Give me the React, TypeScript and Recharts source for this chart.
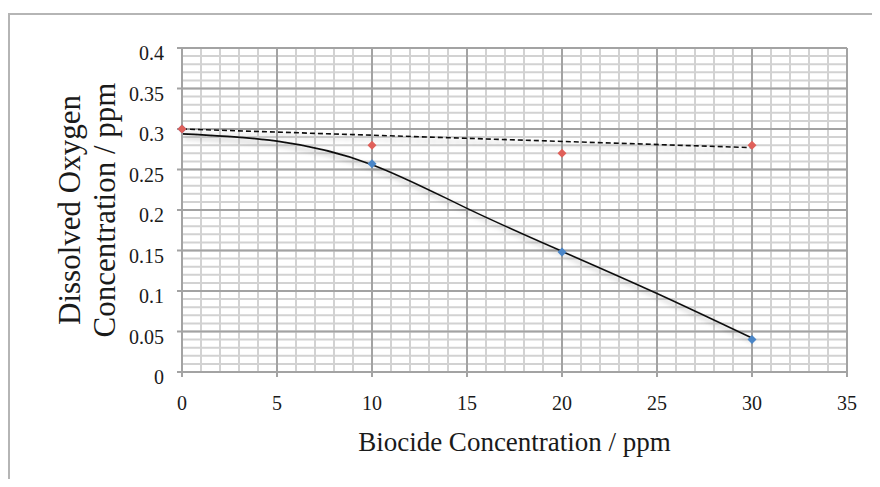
import {
  ComposedChart,
  Line,
  XAxis,
  YAxis,
  CartesianGrid,
  Label,
} from "recharts";

// measured points
const doseX = [0, 10, 20, 30];
const blueDO = [0.3, 0.257, 0.148, 0.04];
const redDO = [0.3, 0.28, 0.27, 0.28];

// trendlines
const polyX = [0, 5, 10, 15, 20, 25, 30];
const polyDO = [0.294, 0.285, 0.256, 0.202, 0.149, 0.097, 0.042];
const linX = [0, 30];
const linDO = [0.3, 0.277];

const xTicks = [0, 5, 10, 15, 20, 25, 30, 35];
const yTicks = [0, 0.05, 0.1, 0.15, 0.2, 0.25, 0.3, 0.35, 0.4];
const yTickLabels = ["0", "0.05", "0.1", "0.15", "0.2", "0.25", "0.3", "0.35", "0.4"];

const xMinor = Array.from({ length: 36 }, (_, i) => i);
const yMinor = Array.from({ length: 41 }, (_, i) => i / 100);

const blueData = doseX.map((x, i) => ({ x, y: blueDO[i] }));
const redData = doseX.map((x, i) => ({ x, y: redDO[i] }));
const polyData = polyX.map((x, i) => ({ x, y: polyDO[i] }));
const linData = linX.map((x, i) => ({ x, y: linDO[i] }));

const FONT = "'Liberation Serif', 'Times New Roman', serif";
const TEXT = "#1a1a1a";
const MAJOR = "#a3a3a3";
const MINOR = "#d2d2d2";

function Diamond(props: any) {
  const { cx, cy, color } = props;
  if (cx == null || cy == null) return null;
  const r = 4.5;
  return (
    <path
      d={`M${cx},${cy - r} L${cx + r},${cy} L${cx},${cy + r} L${cx - r},${cy} Z`}
      fill={color}
    />
  );
}

function XTick(props: any) {
  const { x, y, payload } = props;
  return (
    <text x={x} y={y + 33} textAnchor="middle" fontSize={20} fontFamily={FONT} fill={TEXT}>
      {payload.value}
    </text>
  );
}

function YTick(props: any) {
  const { x, y, payload } = props;
  const i = yTicks.indexOf(payload.value);
  return (
    <text x={x} y={y + 12} textAnchor="end" fontSize={20} fontFamily={FONT} fill={TEXT}>
      {i >= 0 ? yTickLabels[i] : payload.value}
    </text>
  );
}

function XTitle(props: any) {
  const { x, y, width } = props.viewBox;
  return (
    <text x={x + width / 2} y={y + 79} textAnchor="middle" fontSize={27} fontFamily={FONT} fill={TEXT}>
      Biocide Concentration / ppm
    </text>
  );
}

function YTitle(props: any) {
  const { y, height } = props.viewBox;
  const cy = y + height / 2;
  return (
    <g fontSize={31} fontFamily={FONT} fill={TEXT}>
      <text
        x={61}
        y={cy}
        textAnchor="middle"
        dominantBaseline="central"
        transform={`rotate(-90, 61, ${cy})`}
      >
        Dissolved Oxygen
      </text>
      <text
        x={96}
        y={cy}
        textAnchor="middle"
        dominantBaseline="central"
        transform={`rotate(-90, 96, ${cy})`}
      >
        Concentration / ppm
      </text>
    </g>
  );
}

export default function App() {
  return (
    <div style={{ position: "relative", width: 864, height: 471 }}>
      <div
        style={{
          position: "absolute",
          left: 0,
          top: 5,
          right: 0,
          bottom: 0,
          borderTop: "2px solid #b5b5b5",
          borderLeft: "2px solid #b5b5b5",
        }}
      />
      <ComposedChart
        width={864}
        height={471}
        margin={{ top: 40, right: 25, left: 0, bottom: 0 }}
        style={{ position: "absolute", left: 0, top: 0 }}
      >
        <defs>
          <filter id="soft" x="-10%" y="-30%" width="120%" height="160%">
            <feDropShadow dx="2" dy="4" stdDeviation="2.5" floodColor="#000" floodOpacity="0.3" />
          </filter>
        </defs>
        <CartesianGrid
          stroke={MINOR}
          strokeWidth={2}
          verticalValues={xMinor}
          horizontalValues={yMinor}
          syncWithTicks={false}
        />
        <CartesianGrid
          stroke={MAJOR}
          strokeWidth={2}
          verticalValues={xTicks}
          horizontalValues={yTicks}
          syncWithTicks={false}
        />
        <XAxis
          type="number"
          dataKey="x"
          domain={[0, 35]}
          ticks={xTicks}
          interval={0}
          height={107}
          tickSize={5}
          tickMargin={0}
          axisLine={{ stroke: MAJOR, strokeWidth: 2 }}
          tickLine={{ stroke: MAJOR, strokeWidth: 2 }}
          tick={<XTick />}
          allowDuplicatedCategory={false}
        >
          <Label content={<XTitle />} />
        </XAxis>
        <YAxis
          type="number"
          dataKey="y"
          domain={[0, 0.4]}
          ticks={yTicks}
          interval={0}
          width={174}
          tickSize={5}
          tickMargin={13}
          axisLine={{ stroke: MAJOR, strokeWidth: 2 }}
          tickLine={{ stroke: MAJOR, strokeWidth: 2 }}
          tick={<YTick />}
        >
          <Label content={<YTitle />} />
        </YAxis>

        <Line
          data={blueData}
          dataKey="y"
          stroke="none"
          dot={<Diamond color="#4a86c8" />}
          activeDot={false}
          isAnimationActive={false}
        />
        <Line
          data={redData}
          dataKey="y"
          stroke="none"
          dot={<Diamond color="#e0605a" />}
          activeDot={false}
          isAnimationActive={false}
        />
        <Line
          data={polyData}
          dataKey="y"
          type="natural"
          stroke="#111"
          strokeWidth={1.6}
          dot={false}
          activeDot={false}
          filter="url(#soft)"
          isAnimationActive={false}
        />
        <Line
          data={linData}
          dataKey="y"
          type="linear"
          stroke="#111"
          strokeWidth={1.6}
          strokeDasharray="5 3"
          dot={false}
          activeDot={false}
          filter="url(#soft)"
          isAnimationActive={false}
        />
      </ComposedChart>
    </div>
  );
}
